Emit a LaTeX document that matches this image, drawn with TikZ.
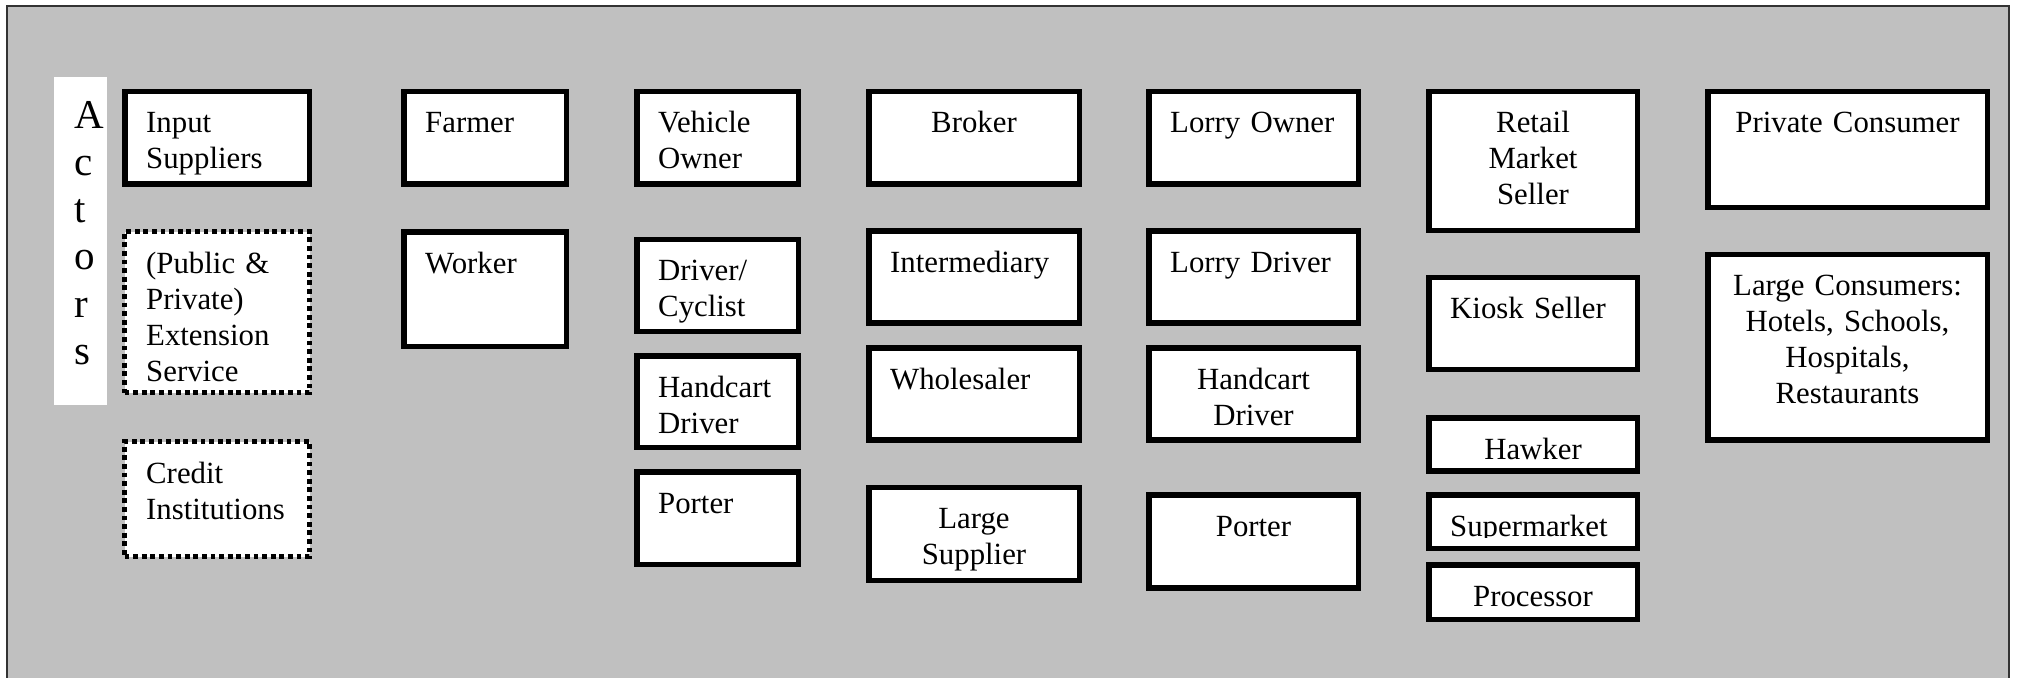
\documentclass[tikz,border=0pt]{standalone}
\usepackage{fontspec}
\setmainfont{Liberation Serif}
\usetikzlibrary{calc}
\definecolor{bggray}{HTML}{C0C0C0}
\begin{document}
\begin{tikzpicture}[x=1pt,y=-1pt,
  box/.style={draw=black,line width=5.5pt,fill=white,inner sep=0pt},
  dotbox/.style={box,line width=5pt,dash pattern=on 4.8pt off 3.8pt},
  txt/.style={inner sep=0pt,font=\fontsize{30.8}{36}\selectfont},
  lt/.style={txt,anchor=base west,align=left,text width=200pt},
  ct/.style={txt,anchor=base,align=center,text width=280pt},
]
\useasboundingbox (0,0) rectangle (2020,677);
\draw[line width=2.5pt,draw=black!80,fill=bggray] (7,6) rectangle (2009,700);

% Actors strip
\node[fill=white,inner sep=0pt,minimum width=53.4pt,minimum height=328pt] (actbg) at (80.3,241) {};
\node[inner sep=0pt,anchor=base west,align=left,text width=40pt,font=\fontsize{41}{47.3}\selectfont] (actors) at (74,128) {A\\c\\t\\o\\r\\s};

% column 1
\node[box,minimum width=184.5pt,minimum height=92.5pt] (inp) at (217,137.5) {};
\node[lt] (inpT) at ($(inp.north west)+(24,44)$) {Input\\Suppliers};
\node[dotbox,minimum width=185pt,minimum height=161pt] (ext) at (217,312) {};
\node[lt] (extT) at ($(ext.north west)+(24,44)$) {(Public \&\\Private)\\Extension\\Service};
\node[dotbox,minimum width=185pt,minimum height=115pt] (cred) at (217,499) {};
\node[lt] (credT) at ($(cred.north west)+(24,44)$) {Credit\\Institutions};

% column 2
\node[box,minimum width=162.5pt,minimum height=92.5pt] (farm) at (485,137.5) {};
\node[lt] (farmT) at ($(farm.north west)+(24,44)$) {Farmer};
\node[box,minimum width=162.5pt,minimum height=114.5pt] (work) at (485,289) {};
\node[lt] (workT) at ($(work.north west)+(24,44)$) {Worker};

% column 3
\node[box,minimum width=161.5pt,minimum height=92.5pt] (veh) at (717.5,137.5) {};
\node[lt] (vehT) at ($(veh.north west)+(24,44)$) {Vehicle\\Owner};
\node[box,minimum width=161.5pt,minimum height=91.9pt] (drv) at (717.5,285.3) {};
\node[lt] (drvT) at ($(drv.north west)+(24,44)$) {Driver/\\Cyclist};
\node[box,minimum width=161.5pt,minimum height=91.5pt] (hc3) at (717.5,401.5) {};
\node[lt] (hc3T) at ($(hc3.north west)+(24,44)$) {Handcart\\Driver};
\node[box,minimum width=161.5pt,minimum height=92.5pt] (por3) at (717.5,518) {};
\node[lt] (por3T) at ($(por3.north west)+(24,44)$) {Porter};

% column 4
\node[box,minimum width=210.5pt,minimum height=92.5pt] (brk) at (974,137.5) {};
\node[ct] (brkT) at ($(brk.north)+(0,44)$) {Broker};
\node[box,minimum width=210.5pt,minimum height=92.1pt] (intm) at (974,276.8) {};
\node[lt] (intmT) at ($(intm.north west)+(24,44)$) {Intermediary};
\node[box,minimum width=210.5pt,minimum height=92.1pt] (whs) at (974,393.8) {};
\node[lt] (whsT) at ($(whs.north west)+(24,44)$) {Wholesaler};
\node[box,minimum width=210.5pt,minimum height=93pt] (lsup) at (974,533.75) {};
\node[ct] (lsupT) at ($(lsup.north)+(0,44)$) {Large\\Supplier};

% column 5
\node[box,minimum width=209.5pt,minimum height=92.5pt] (lown) at (1253.5,137.5) {};
\node[lt] (lownT) at ($(lown.north west)+(24,44)$) {Lorry Owner};
\node[box,minimum width=209.5pt,minimum height=92.1pt] (ldrv) at (1253.5,276.8) {};
\node[lt] (ldrvT) at ($(ldrv.north west)+(24,44)$) {Lorry Driver};
\node[box,minimum width=209.5pt,minimum height=92.1pt] (hc5) at (1253.5,393.8) {};
\node[ct] (hc5T) at ($(hc5.north)+(0,44)$) {Handcart\\Driver};
\node[box,minimum width=209.5pt,minimum height=93.2pt] (por5) at (1253.5,541.35) {};
\node[ct] (por5T) at ($(por5.north)+(0,44)$) {Porter};

% column 6
\node[box,minimum width=208.5pt,minimum height=139pt] (ret) at (1533,160.75) {};
\node[ct] (retT) at ($(ret.north)+(0,44)$) {Retail\\Market\\Seller};
\node[box,minimum width=208.5pt,minimum height=91.9pt] (kio) at (1533,323.3) {};
\node[lt] (kioT) at ($(kio.north west)+(24,44)$) {Kiosk Seller};
\node[box,minimum width=208.5pt,minimum height=53.1pt] (haw) at (1533,444.3) {};
\node[ct] (hawT) at ($(haw.north)+(0,44)$) {Hawker};
\node[box,minimum width=208.5pt,minimum height=53.5pt] (sup) at (1533,521.5) {};
\begin{scope}
\clip (1426,492) rectangle (1640,537);
\node[lt] (supT) at ($(sup.north west)+(24,44)$) {Supermarket};
\end{scope}
\node[box,minimum width=208.5pt,minimum height=54.5pt] (proc) at (1533,592) {};
\node[ct] (procT) at ($(proc.north)+(0,44)$) {Processor};

% column 7
\node[box,minimum width=279.5pt,minimum height=116pt] (pcon) at (1847.5,149.25) {};
\node[ct] (pconT) at ($(pcon.north)+(0,44)$) {Private Consumer};
\node[box,minimum width=279.5pt,minimum height=185.4pt] (lcon) at (1847.5,347.15) {};
\node[ct] (lconT) at ($(lcon.north)+(0,44)$) {Large Consumers:\\Hotels, Schools,\\Hospitals,\\Restaurants};
\end{tikzpicture}
\end{document}
